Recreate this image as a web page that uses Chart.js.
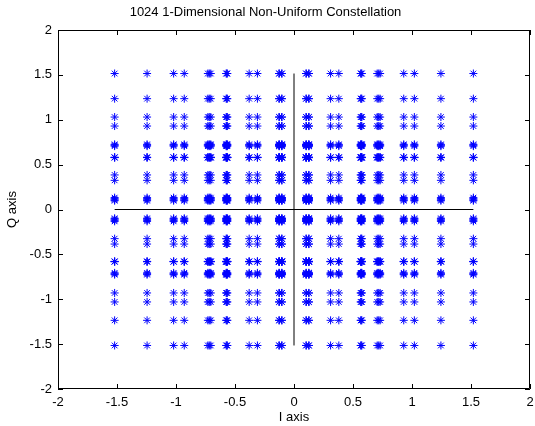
<!DOCTYPE html>
<html><head><meta charset="utf-8">
<script src="https://cdn.jsdelivr.net/npm/chart.js@4.4.1/dist/chart.umd.min.js"></script>
<style>html,body{margin:0;padding:0;background:#fff;}</style>
</head><body>
<canvas id="c" width="535" height="426"></canvas>
<script>
const chartTitle = '1024 1-Dimensional Non-Uniform Constellation';
const xAxisLabel = 'I axis';
const yAxisLabel = 'Q axis';
// positive amplitude levels of the 1-D non-uniform constellation
const iLevels = [0.102, 0.104, 0.125, 0.127, 0.31, 0.38, 0.565, 0.570, 0.575, 0.705, 0.718, 0.730, 0.93, 1.02, 1.245, 1.52];
const qLevels = [0.098, 0.108, 0.120, 0.132, 0.325, 0.385, 0.578, 0.580, 0.582, 0.706, 0.716, 0.726, 0.93, 1.03, 1.235, 1.515];
const axisLimits = [-2, 2];
const tickStep = 0.5;

const iAll = [...iLevels.map(v => -v), ...iLevels];
const qAll = [...qLevels.map(v => -v), ...qLevels];
const points = [];
for (const i of iAll) for (const q of qAll) points.push({x: i, y: q});
const iMax = Math.max(...iLevels), qMax = Math.max(...qLevels);

const FONT = 'Arial, "Liberation Sans", Helvetica, sans-serif';

const boxPlugin = {
  id: 'box',
  afterDraw(chart) {
    const {ctx, chartArea: a, scales} = chart;
    ctx.save();
    ctx.strokeStyle = '#000';
    ctx.lineWidth = 1;
    ctx.beginPath();
    ctx.rect(Math.round(a.left) + 0.5, Math.round(a.top) + 0.5, Math.round(a.right - a.left) - 1, Math.round(a.bottom - a.top) - 1);
    ctx.stroke();
    const tl = 5;
    ctx.beginPath();
    scales.x.ticks.forEach(t => {
      const px = Math.round(scales.x.getPixelForValue(t.value)) + 0.5;
      ctx.moveTo(px, a.bottom); ctx.lineTo(px, a.bottom - tl);
      ctx.moveTo(px, a.top); ctx.lineTo(px, a.top + tl);
    });
    scales.y.ticks.forEach(t => {
      const py = Math.round(scales.y.getPixelForValue(t.value)) + 0.5;
      ctx.moveTo(a.left, py); ctx.lineTo(a.left + tl, py);
      ctx.moveTo(a.right, py); ctx.lineTo(a.right - tl, py);
    });
    ctx.stroke();
    ctx.restore();
  }
};

const fmt = v => String(Math.round(v * 10) / 10);

new Chart(document.getElementById('c'), {
  type: 'scatter',
  data: {
    datasets: [
      {
        label: 'constellation',
        data: points,
        pointStyle: 'star',
        radius: 4,
        borderColor: '#0000ff',
        backgroundColor: '#0000ff',
        borderWidth: 1,
        showLine: false
      },
      {
        label: 'I',
        data: [{x: -iMax, y: 0}, {x: iMax, y: 0}],
        showLine: true, borderColor: '#000', borderWidth: 1, pointRadius: 0
      },
      {
        label: 'Q',
        data: [{x: 0, y: -qMax}, {x: 0, y: qMax}],
        showLine: true, borderColor: '#000', borderWidth: 1, pointRadius: 0
      }
    ]
  },
  options: {
    responsive: false,
    animation: false,
    layout: {padding: {left: 0, right: 4, top: 0, bottom: 0}},
    plugins: {
      legend: {display: false},
      tooltip: {enabled: false},
      title: {
        display: true, text: chartTitle, color: '#000',
        font: {family: FONT, size: 13, weight: 'normal'},
        padding: {top: 4.2, bottom: 10.2}
      }
    },
    scales: {
      x: {
        type: 'linear', min: axisLimits[0], max: axisLimits[1],
        grid: {display: false, drawTicks: false},
        border: {display: false},
        ticks: {stepSize: tickStep, color: '#000', padding: 6, font: {family: FONT, size: 13}, maxRotation: 0, autoSkip: false, callback: fmt},
        title: {display: true, text: xAxisLabel, color: '#000', font: {family: FONT, size: 13}, padding: {top: 0, bottom: 1}},
        afterFit(s) { s.height = 37; s.paddingLeft = 0; s.paddingRight = 0; }
      },
      y: {
        type: 'linear', min: axisLimits[0], max: axisLimits[1],
        grid: {display: false, drawTicks: false},
        border: {display: false},
        ticks: {stepSize: tickStep, color: '#000', padding: 6, font: {family: FONT, size: 13}, autoSkip: false, callback: fmt},
        title: {display: true, text: yAxisLabel, color: '#000', font: {family: FONT, size: 13}, padding: {top: 5, bottom: 0}},
        afterFit(s) { s.width = 58; s.paddingTop = 0; s.paddingBottom = 0; }
      }
    }
  },
  plugins: [boxPlugin]
});
</script>
</body></html>
